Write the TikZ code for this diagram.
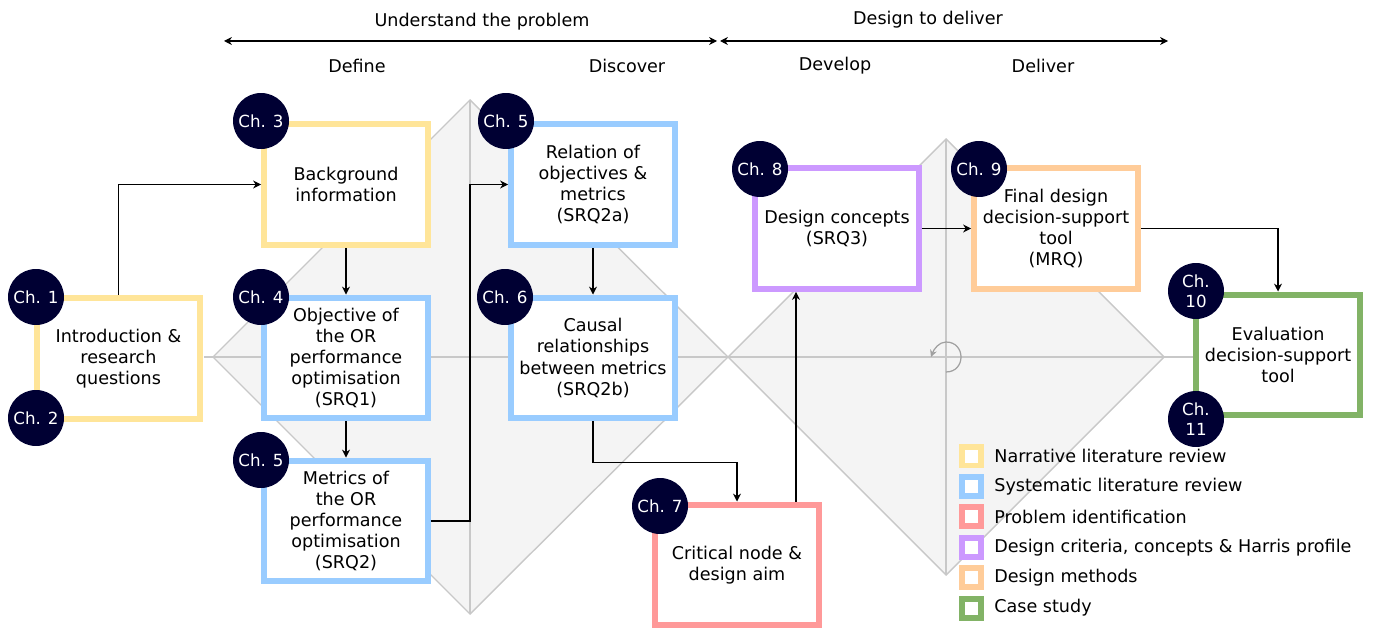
\documentclass[tikz,border=0pt]{standalone}
\usepackage{fontspec}
\setmainfont{DejaVu Sans}
\usepackage{tikz}
\usetikzlibrary{arrows.meta,positioning,calc}
\usepackage{xcolor}
\definecolor{NarrYellow}{HTML}{FFE599}
\definecolor{SysBlue}{HTML}{99CCFF}
\definecolor{ProbRed}{HTML}{FF9999}
\definecolor{CritPurple}{HTML}{CC99FF}
\definecolor{MethOrange}{HTML}{FFCC99}
\definecolor{CaseGreen}{HTML}{82B366}
\definecolor{ChapNavy}{HTML}{000033}
\definecolor{DiamFill}{HTML}{F4F4F4}
\definecolor{DiamLine}{HTML}{C8C8C8}

\begin{document}
\begin{tikzpicture}[x=0.02cm,y=-0.02cm,
  font=\fontsize{10}{12}\selectfont,
  chbox/.style={draw=#1, line width=0.12cm, fill=white, minimum width=3.28cm,
    minimum height=2.42cm, align=center, inner sep=2pt},
  chap/.style={circle, fill=ChapNavy, text=white, minimum size=1.12cm, inner sep=0pt,
    align=center, font=\fontsize{9.5}{11.4}\selectfont},
  flow/.style={-{Stealth[length=4.5pt,width=4.5pt]}, line width=0.6pt},
  phase/.style={{Stealth[length=4.5pt,width=4.5pt]}-{Stealth[length=4.5pt,width=4.5pt]}, line width=0.6pt},
  diam/.style={draw=DiamLine, line width=0.8pt},
  legsq/.style={draw=#1, line width=0.12cm, fill=white, minimum size=0.38cm, inner sep=0pt}]
  \useasboundingbox (0,0) rectangle (1373,628);

  % double diamond
  \coordinate (d1w) at (213,357);
  \coordinate (d1n) at (470,100);
  \coordinate (mid) at (728,357);
  \coordinate (d1s) at (470,614);
  \coordinate (d2n) at (946,139);
  \coordinate (d2e) at (1164,357);
  \coordinate (d2s) at (946,575);
  \filldraw[diam, fill=DiamFill] (d1w) -- (d1n) -- (mid) -- (d1s) -- cycle;
  \filldraw[diam, fill=DiamFill] (mid) -- (d2n) -- (d2e) -- (d2s) -- cycle;
  \draw[diam] (d1n) -- (d1s) (d2n) -- (d2s) (204,357) -- (1193,357);
  \draw[DiamLine!80!black, line width=0.7pt, -{Stealth[length=4pt,width=4pt]}]
    (946,372) .. controls (966,372) and (966,342) .. (946,342)
    .. controls (939,342) and (934,349) .. (931,357);

  % phases
  \coordinate (u1) at (224,41);
  \coordinate (u2) at (717,41);
  \coordinate (v1) at (720,41);
  \coordinate (v2) at (1168,41);
  \draw[phase] (u1) -- (u2);
  \draw[phase] (v1) -- (v2);
  \node (understand) at (482,22) {Understand the problem};
  \node (deliverall) at (928,20) {Design to deliver};
  \node (define) at (357,66) {Define};
  \node (discover) at (627,66) {Discover};
  \node (develop) at (835,66) {Develop};
  \node (deliver) at (1043,66) {Deliver};

  % chapters
  \node[chbox=NarrYellow] (intro) at (118.5,358.5) {Introduction \&\\research\\questions};
  \node[chbox=NarrYellow] (backgr) at (346,184.5) {Background\\information};
  \node[chbox=SysBlue] (objective) at (346,358) {Objective of\\the OR\\performance\\optimisation\\(SRQ1)};
  \node[chbox=SysBlue] (metrics) at (346,521) {Metrics of\\the OR\\performance\\optimisation\\(SRQ2)};
  \node[chbox=SysBlue] (relation) at (593,184.5) {Relation of\\objectives \&\\metrics\\(SRQ2a)};
  \node[chbox=SysBlue] (causal) at (593,358) {Causal\\relationships\\between metrics\\(SRQ2b)};
  \node[chbox=ProbRed] (critical) at (737,565) {Critical node \&\\design aim};
  \node[chbox=CritPurple] (concepts) at (837,228.5) {Design concepts\\(SRQ3)};
  \node[chbox=MethOrange] (final) at (1056,228.5) {Final design\\decision-support\\tool\\(MRQ)};
  \node[chbox=CaseGreen] (eval) at (1278,355) {Evaluation\\decision-support\\tool};

  \draw[flow] (intro.north) |- (backgr.west);
  \draw[flow] (backgr) -- (objective);
  \draw[flow] (objective) -- (metrics);
  \draw[flow] (metrics.east) -- ++(39,0) |- (relation.west);
  \draw[flow] (relation) -- (causal);
  \draw[flow] (causal.south) -- ++(0,41) -| (critical.north);
  \draw[flow] ([xshift=1.18cm]critical.north) -- ([xshift=1.18cm]critical.north |- concepts.south);
  \draw[flow] (concepts) -- (final);
  \draw[flow] (final.east) -| (eval.north);

  \node[chap] (ch1) at (36,297) {Ch. 1};
  \node[chap] (ch2) at (36,418) {Ch. 2};
  \node[chap] (ch3) at (261,121) {Ch. 3};
  \node[chap] (ch4) at (261,297) {Ch. 4};
  \node[chap] (ch5a) at (261,460) {Ch. 5};
  \node[chap] (ch5b) at (506,121) {Ch. 5};
  \node[chap] (ch6) at (505,297) {Ch. 6};
  \node[chap] (ch7) at (660,506) {Ch. 7};
  \node[chap] (ch8) at (760,169) {Ch. 8};
  \node[chap] (ch9) at (979,169) {Ch. 9};
  \node[chap] (ch10) at (1196,291) {Ch.\\10};
  \node[chap] (ch11) at (1196,419) {Ch.\\11};

  % legend
  \foreach \col/\txt [count=\i from 0] in {NarrYellow/Narrative literature review,
      SysBlue/Systematic literature review, ProbRed/Problem identification,
      CritPurple/{Design criteria, concepts \& Harris profile},
      MethOrange/Design methods, CaseGreen/Case study}{
    \node[legsq=\col] (leg\i) at (971.5,456+30.4*\i) {};
    \node[anchor=west, inner sep=0pt] (legtxt\i) at (994,456+30.4*\i) {\txt};
  }
\end{tikzpicture}
\end{document}
